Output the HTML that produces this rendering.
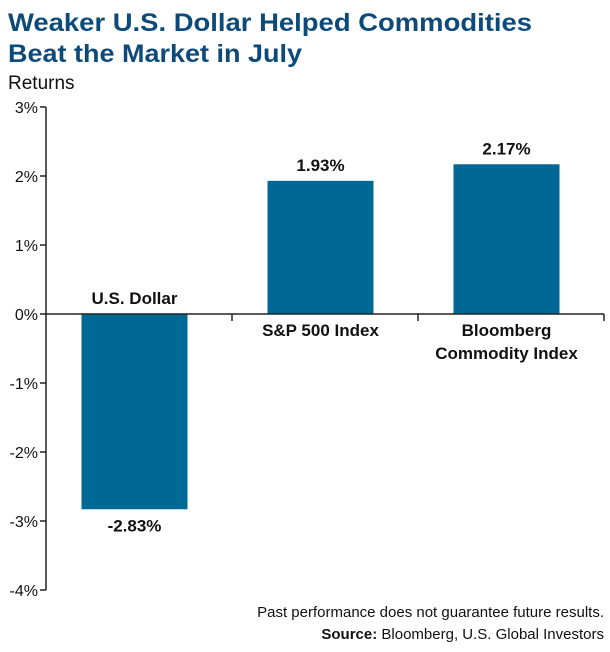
<!DOCTYPE html>
<html><head><meta charset="utf-8"><style>
body{margin:0;background:#fff;width:610px;height:647px;overflow:hidden;font-family:"Liberation Sans",sans-serif}
</style></head><body>
<svg width="610" height="647" id="svg">
<text x="8" y="31" font-size="25" font-weight="bold" fill="#0c4a7a" textLength="524" lengthAdjust="spacingAndGlyphs">Weaker U.S. Dollar Helped Commodities</text>
<text x="8" y="62" font-size="25" font-weight="bold" fill="#0c4a7a" textLength="294" lengthAdjust="spacingAndGlyphs">Beat the Market in July</text>
<text x="8" y="89" font-size="19" fill="#111">Returns</text>
<g id="plot"></g>
<text x="604" y="617" font-size="15" text-anchor="end" fill="#111">Past performance does not guarantee future results.</text>
<text x="604" y="639" font-size="15" text-anchor="end" fill="#111"><tspan font-weight="bold">Source:</tspan> Bloomberg, U.S. Global Investors</text>
</svg>
<script>
const categories=[["U.S. Dollar"],["S&P 500 Index"],["Bloomberg","Commodity Index"]];
const values=[-2.83,1.93,2.17];
const valueLabels=["-2.83%","1.93%","2.17%"];
const ticks=[3,2,1,0,-1,-2,-3,-4];
const tickLabels=["3%","2%","1%","0%","-1%","-2%","-3%","-4%"];
const NS="http://www.w3.org/2000/svg",g=document.getElementById('plot');
const x0=46,x1=604,bw=(x1-x0)/3,barW=106;
const y=v=>314-v*69;
function mk(t,a,txt){const e=document.createElementNS(NS,t);for(const k in a)e.setAttribute(k,a[k]);if(txt!=null)e.textContent=txt;g.appendChild(e);return e;}
ticks.forEach((t,i)=>{
 const l=mk('line',{x1:x0-6,x2:x0,y1:y(t),y2:y(t),stroke:'#222','stroke-width':1.5});
 
 
 const tx=mk('text',{x:x0-8,y:y(t)+6,'font-size':16,'text-anchor':'end',fill:'#111'},tickLabels[i]);
 
 
});
values.forEach((v,i)=>{
 const cx=x0+bw*(i+0.5)-4.5;
 const r=mk('rect',{x:cx-barW/2,y:Math.min(y(v),y(0)),width:barW,height:Math.abs(y(v)-y(0)),fill:'#006894'});
 
 
 const vy=v>=0?y(v)-10:y(v)+22;
 const vl=mk('text',{x:cx,y:vy,'font-size':17,'font-weight':'bold','text-anchor':'middle',fill:'#111'},valueLabels[i]);
 
 
 categories[i].forEach((c,j)=>{
  const cy=v<0?y(0)-10:y(0)+22+j*23;
  const cl=mk('text',{x:cx,y:cy,'font-size':17,'font-weight':'bold','text-anchor':'middle',fill:'#111'},c);
  
  
 });
 const tk=mk('line',{x1:x0+bw*(i+1),x2:x0+bw*(i+1),y1:y(0),y2:y(0)+7,stroke:'#222','stroke-width':1.5});
 
 
});
const ya=mk('line',{x1:x0,x2:x0,y1:y(3),y2:y(-4),stroke:'#222','stroke-width':1.5});


const xa=mk('line',{x1:x0,x2:x1,y1:y(0),y2:y(0),stroke:'#222','stroke-width':1.5});


</script>
</body></html>
